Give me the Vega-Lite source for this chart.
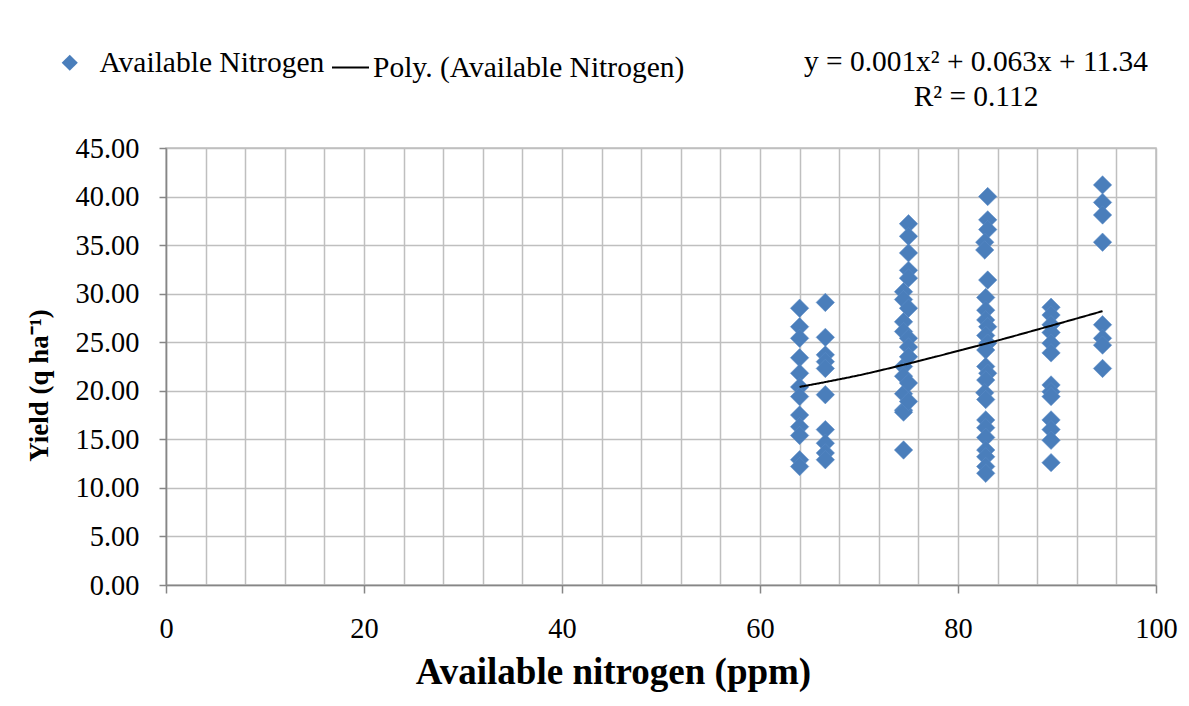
{
  "$schema": "https://vega.github.io/schema/vega-lite/v6.json",
  "autosize": {"type": "none"},
  "width": 990,
  "height": 437,
  "padding": {"left": 166, "top": 148, "right": 33, "bottom": 121},
  "background": "white",
  "title": {
    "text": ["y = 0.001x² + 0.063x + 11.34", "R² = 0.112"],
    "anchor": "end",
    "align": "center",
    "frame": "group",
    "dx": -180,
    "offset": 0,
    "dy": 87,
    "font": "Liberation Serif",
    "fontSize": 29.4,
    "fontWeight": "normal",
    "color": "black",
    "lineHeight": 35,
    "baseline": "alphabetic"
  },
  "datasets": {
    "pts": [
      {"N": 64, "Yield": 28.5}, {"N": 64, "Yield": 26.6}, {"N": 64, "Yield": 25.4}, {"N": 64, "Yield": 23.4},
      {"N": 64, "Yield": 21.8}, {"N": 64, "Yield": 20.4}, {"N": 64, "Yield": 19.4}, {"N": 64, "Yield": 17.5},
      {"N": 64, "Yield": 16.3}, {"N": 64, "Yield": 15.4}, {"N": 64, "Yield": 12.9}, {"N": 64, "Yield": 12.2},
      {"N": 66.6, "Yield": 29.1}, {"N": 66.6, "Yield": 25.5}, {"N": 66.6, "Yield": 23.7}, {"N": 66.6, "Yield": 23.0},
      {"N": 66.6, "Yield": 22.3}, {"N": 66.6, "Yield": 19.6}, {"N": 66.6, "Yield": 16.0}, {"N": 66.6, "Yield": 14.6},
      {"N": 66.6, "Yield": 13.6}, {"N": 66.6, "Yield": 12.9},
      {"N": 74.5, "Yield": 30.2}, {"N": 74.5, "Yield": 29.4}, {"N": 74.5, "Yield": 27.1}, {"N": 74.5, "Yield": 26.1},
      {"N": 74.5, "Yield": 22.5}, {"N": 74.5, "Yield": 21.5}, {"N": 74.5, "Yield": 19.7}, {"N": 74.5, "Yield": 18.0},
      {"N": 74.5, "Yield": 17.8}, {"N": 74.5, "Yield": 13.9},
      {"N": 75, "Yield": 37.2}, {"N": 75, "Yield": 35.9}, {"N": 75, "Yield": 34.2}, {"N": 75, "Yield": 32.4},
      {"N": 75, "Yield": 31.6}, {"N": 75, "Yield": 28.5}, {"N": 75, "Yield": 25.4}, {"N": 75, "Yield": 24.5},
      {"N": 75, "Yield": 23.5}, {"N": 75, "Yield": 20.8}, {"N": 75, "Yield": 18.9},
      {"N": 83, "Yield": 40.0}, {"N": 83, "Yield": 37.6}, {"N": 83, "Yield": 36.6}, {"N": 82.7, "Yield": 35.3},
      {"N": 82.7, "Yield": 34.5}, {"N": 83, "Yield": 31.4}, {"N": 82.8, "Yield": 29.6}, {"N": 82.8, "Yield": 28.3},
      {"N": 82.8, "Yield": 27.3}, {"N": 83, "Yield": 26.6}, {"N": 82.8, "Yield": 25.7}, {"N": 83, "Yield": 24.9},
      {"N": 82.8, "Yield": 24.2}, {"N": 82.8, "Yield": 22.5}, {"N": 83, "Yield": 21.8}, {"N": 82.8, "Yield": 21.1},
      {"N": 82.7, "Yield": 19.8}, {"N": 82.8, "Yield": 19.1}, {"N": 82.8, "Yield": 17.0}, {"N": 82.8, "Yield": 16.2},
      {"N": 82.8, "Yield": 15.2}, {"N": 82.8, "Yield": 13.9}, {"N": 82.8, "Yield": 13.2}, {"N": 82.8, "Yield": 12.2},
      {"N": 82.8, "Yield": 11.5},
      {"N": 89.4, "Yield": 28.6}, {"N": 89.4, "Yield": 27.8}, {"N": 89.4, "Yield": 26.8}, {"N": 89.4, "Yield": 26.0},
      {"N": 89.4, "Yield": 24.9}, {"N": 89.4, "Yield": 23.9}, {"N": 89.4, "Yield": 20.6}, {"N": 89.4, "Yield": 19.9},
      {"N": 89.4, "Yield": 19.4}, {"N": 89.4, "Yield": 17.0}, {"N": 89.4, "Yield": 16.0}, {"N": 89.4, "Yield": 14.9},
      {"N": 89.4, "Yield": 12.6},
      {"N": 94.6, "Yield": 41.2}, {"N": 94.6, "Yield": 39.4}, {"N": 94.6, "Yield": 38.1}, {"N": 94.6, "Yield": 35.3},
      {"N": 94.6, "Yield": 26.8}, {"N": 94.6, "Yield": 25.4}, {"N": 94.6, "Yield": 24.7}, {"N": 94.6, "Yield": 22.3}
    ],
    "trend": [
      {"N": 64, "Fit": 20.4}, {"N": 66.6, "Fit": 20.9}, {"N": 70, "Fit": 21.6}, {"N": 74.6, "Fit": 22.7},
      {"N": 80, "Fit": 24.1}, {"N": 83, "Fit": 24.9}, {"N": 89.4, "Fit": 26.7}, {"N": 94.6, "Fit": 28.2}
    ]
  },
  "layer": [
    {
      "data": {"name": "pts"},
      "mark": {"type": "point", "filled": true, "size": 340, "opacity": 1, "color": "#4a7ebb", "stroke": "#5a8ac6", "strokeWidth": 0.5},
      "encoding": {
        "x": {
          "field": "N", "type": "quantitative",
          "scale": {"domain": [0, 100], "nice": false, "zero": true},
          "axis": {
            "title": "Available nitrogen (ppm)",
            "values": [0, 4, 8, 12, 16, 20, 24, 28, 32, 36, 40, 44, 48, 52, 56, 60, 64, 68, 72, 76, 80, 84, 88, 92, 96, 100],
            "tickCount": 40,
            "labelExpr": "datum.value % 20 === 0 ? datum.label : ''",
            "labelOverlap": false,
            "labelFlush": false,
            "labelBound": false,
            "tickOpacity": {"condition": {"test": "datum.value % 20 === 0", "value": 1}, "value": 0},
            "tickSize": 8,
            "labelPadding": 22,
            "titleX": 447,
            "titleY": 98,
            "titleBaseline": "alphabetic",
            "titleAlign": "center",
            "titleFontSize": 37
          }
        },
        "y": {
          "field": "Yield", "type": "quantitative",
          "scale": {"domain": [0, 45], "nice": false},
          "axis": {
            "title": "Yield (q ha⁻¹)",
            "values": [0, 5, 10, 15, 20, 25, 30, 35, 40, 45],
            "tickCount": 20,
            "format": ".2f",
            "labelOverlap": false,
            "labelFlush": false,
            "tickSize": 7,
            "labelPadding": 20,
            "labelFontSize": 28.4,
            "titleAngle": -90,
            "titleX": -119,
            "titleY": 237,
            "titleAlign": "center",
            "titleBaseline": "alphabetic",
            "titleFontSize": 27
          }
        },
        "shape": {
          "datum": "Available Nitrogen",
          "type": "nominal",
          "scale": {"domain": ["Available Nitrogen"], "range": ["diamond"]},
          "legend": {
            "title": null,
            "orient": "none",
            "legendX": -111,
            "legendY": -100,
            "symbolType": "M-0.75,0L0,-1L0.75,0L0,1Z",
            "symbolSize": 260,
            "symbolFillColor": "#4a7ebb",
            "symbolStrokeColor": "#4a7ebb",
            "symbolStrokeWidth": 0,
            "labelOffset": 15
          }
        }
      }
    },
    {
      "data": {"name": "trend"},
      "mark": {"type": "line", "strokeWidth": 2, "color": "#000000", "interpolate": "monotone"},
      "encoding": {
        "x": {"field": "N", "type": "quantitative"},
        "y": {"field": "Fit", "type": "quantitative"},
        "strokeDash": {
          "datum": "Poly. (Available Nitrogen)",
          "type": "nominal",
          "scale": {"domain": ["Poly. (Available Nitrogen)"], "range": [[1, 0]]},
          "legend": {
            "title": null,
            "orient": "none",
            "legendX": 165,
            "legendY": -100,
            "symbolType": "stroke",
            "symbolSize": 1369,
            "symbolStrokeColor": "#000000",
            "symbolStrokeWidth": 2,
            "labelOffset": 3
          }
        }
      }
    }
  ],
  "config": {
    "font": "Liberation Serif",
    "view": {"stroke": "#bfbfbf", "strokeWidth": 1.5},
    "axis": {
      "grid": true,
      "gridColor": "#bfbfbf",
      "gridWidth": 1.5,
      "domainColor": "#868686",
      "domainWidth": 1.5,
      "tickColor": "#868686",
      "tickWidth": 1.5,
      "labelFont": "Liberation Serif",
      "labelFontSize": 28.4,
      "labelColor": "#000000",
      "titleFont": "Liberation Serif",
      "titleFontWeight": "bold",
      "titleColor": "#000000"
    },
    "legend": {
      "labelFont": "Liberation Serif",
      "labelFontSize": 29.5,
      "labelColor": "#000000",
      "labelLimit": 0
    }
  }
}
